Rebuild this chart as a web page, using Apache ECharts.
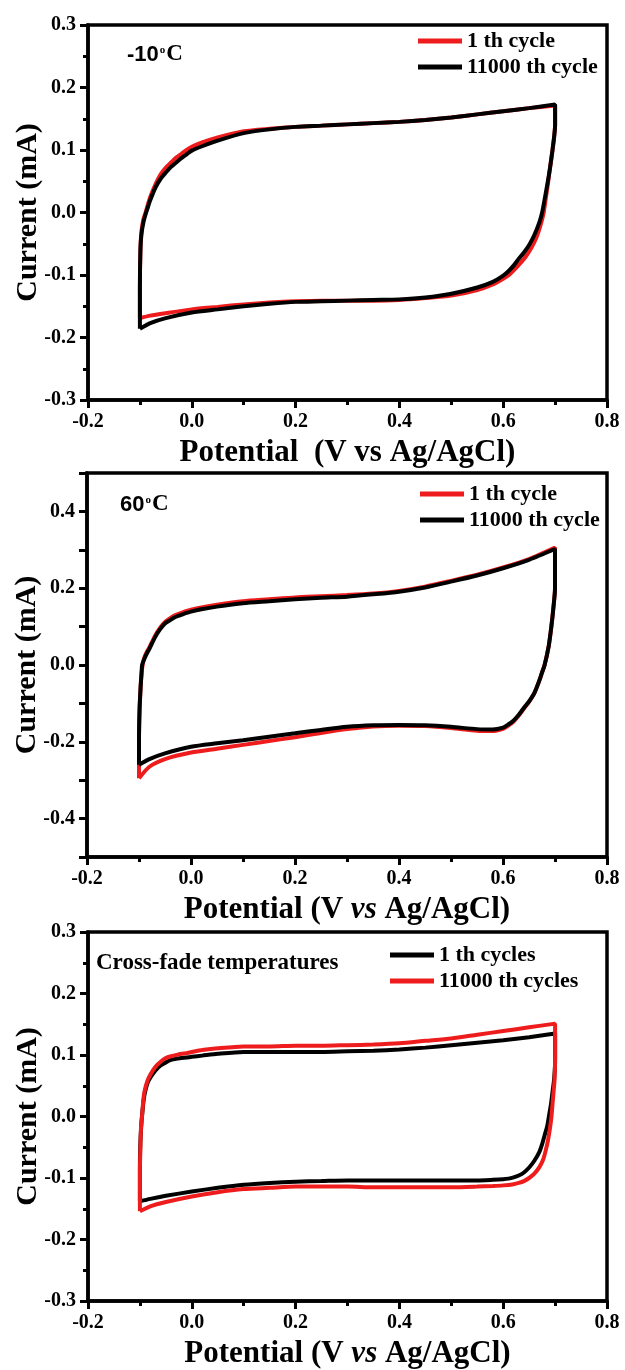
<!DOCTYPE html>
<html>
<head>
<meta charset="utf-8">
<script src="https://cdn.jsdelivr.net/npm/echarts@6/dist/echarts.min.js"></script>
<style>
html,body{margin:0;padding:0;background:#fff;}
#chart{width:625px;height:1370px;}
</style>
</head>
<body>
<div id="chart"></div>
<script>
// ---------- DATA ----------
const xTicks = [-0.2, 0.0, 0.2, 0.4, 0.6, 0.8];
const yTicksTop = [-0.3, -0.2, -0.1, 0.0, 0.1, 0.2, 0.3];
const yTicksMid = [-0.4, -0.2, 0.0, 0.2, 0.4];
const yTicksBot = [-0.3, -0.2, -0.1, 0.0, 0.1, 0.2, 0.3];

const legendTop = ['1 th cycle', '11000 th cycle'];
const legendBot = ['1 th cycles', '11000 th cycles'];
const labelsPanel = ['-10', '60', 'Cross-fade temperatures'];

// Panel 1 (-10 C) : [potential V, current mA], forward then reverse scan
const p1Cycle1 = [[-0.1,-0.169],[-0.1,-0.12],[-0.099,-0.06],[-0.097,-0.03],[-0.093,-0.01],[-0.089,0.0],[-0.085,0.012],[-0.08,0.025],[-0.07,0.045],[-0.06,0.061],[-0.05,0.072],[-0.04,0.08],[-0.03,0.088],[-0.02,0.094],[-0.01,0.1],[0.0,0.105],[0.02,0.112],[0.05,0.12],[0.1,0.13],[0.15,0.134],[0.2,0.137],[0.25,0.139],[0.3,0.141],[0.35,0.143],[0.4,0.145],[0.45,0.148],[0.5,0.152],[0.55,0.157],[0.6,0.162],[0.65,0.167],[0.7,0.171],
  [0.7,0.14],[0.698,0.12],[0.695,0.1],[0.69,0.07],[0.686,0.045],[0.682,0.022],[0.678,0.0],[0.673,-0.017],[0.664,-0.04],[0.654,-0.057],[0.644,-0.07],[0.633,-0.081],[0.622,-0.091],[0.611,-0.1],[0.6,-0.106],[0.58,-0.115],[0.55,-0.124],[0.5,-0.133],[0.45,-0.137],[0.4,-0.14],[0.35,-0.141],[0.3,-0.141],[0.25,-0.141],[0.2,-0.142],[0.15,-0.144],[0.1,-0.147],[0.05,-0.151],[0.0,-0.155],[-0.05,-0.161],[-0.08,-0.165],[-0.1,-0.169]];
const p1Cycle11000 = [[-0.1,-0.186],[-0.1,-0.12],[-0.099,-0.06],[-0.097,-0.035],[-0.093,-0.015],[-0.088,0.0],[-0.084,0.01],[-0.08,0.02],[-0.07,0.04],[-0.06,0.054],[-0.05,0.064],[-0.04,0.073],[-0.03,0.08],[-0.02,0.087],[-0.01,0.093],[0.0,0.099],[0.02,0.106],[0.05,0.115],[0.1,0.127],[0.15,0.133],[0.2,0.137],[0.25,0.139],[0.3,0.141],[0.35,0.143],[0.4,0.145],[0.45,0.148],[0.5,0.152],[0.55,0.157],[0.6,0.162],[0.65,0.167],[0.7,0.173],
  [0.7,0.14],[0.698,0.12],[0.695,0.1],[0.69,0.07],[0.685,0.045],[0.68,0.022],[0.675,0.0],[0.67,-0.015],[0.66,-0.036],[0.65,-0.052],[0.64,-0.064],[0.63,-0.074],[0.62,-0.085],[0.61,-0.094],[0.6,-0.101],[0.58,-0.111],[0.55,-0.12],[0.5,-0.13],[0.45,-0.136],[0.4,-0.139],[0.35,-0.14],[0.3,-0.141],[0.25,-0.142],[0.2,-0.143],[0.15,-0.146],[0.1,-0.15],[0.05,-0.155],[0.0,-0.16],[-0.05,-0.169],[-0.08,-0.177],[-0.1,-0.186]];

// Panel 2 (60 C)
const p2Cycle1 = [[-0.1,-0.295],[-0.1,-0.2],[-0.099,-0.12],[-0.097,-0.06],[-0.095,-0.02],[-0.093,0.0],[-0.09,0.018],[-0.085,0.034],[-0.08,0.046],[-0.07,0.074],[-0.06,0.096],[-0.05,0.112],[-0.04,0.122],[-0.03,0.13],[-0.02,0.135],[-0.01,0.14],[0.0,0.144],[0.02,0.15],[0.05,0.157],[0.1,0.166],[0.15,0.171],[0.2,0.176],[0.25,0.179],[0.3,0.182],[0.35,0.186],[0.4,0.193],[0.45,0.204],[0.5,0.219],[0.55,0.235],[0.6,0.254],[0.65,0.276],[0.7,0.306],
  [0.7,0.2],[0.697,0.15],[0.693,0.1],[0.688,0.05],[0.68,0.0],[0.675,-0.02],[0.67,-0.04],[0.66,-0.074],[0.65,-0.096],[0.64,-0.114],[0.63,-0.132],[0.62,-0.148],[0.61,-0.158],[0.6,-0.166],[0.58,-0.172],[0.55,-0.171],[0.5,-0.164],[0.45,-0.159],[0.4,-0.158],[0.35,-0.16],[0.3,-0.167],[0.25,-0.177],[0.2,-0.188],[0.15,-0.198],[0.1,-0.208],[0.05,-0.218],[0.0,-0.228],[-0.05,-0.245],[-0.08,-0.265],[-0.1,-0.295]];
const p2Cycle11000 = [[-0.1,-0.26],[-0.1,-0.2],[-0.099,-0.12],[-0.097,-0.06],[-0.095,-0.02],[-0.094,0.0],[-0.09,0.015],[-0.085,0.03],[-0.08,0.042],[-0.07,0.07],[-0.06,0.092],[-0.05,0.108],[-0.04,0.117],[-0.03,0.125],[-0.02,0.13],[-0.01,0.135],[0.0,0.139],[0.02,0.145],[0.05,0.152],[0.1,0.161],[0.15,0.166],[0.2,0.171],[0.25,0.175],[0.3,0.178],[0.35,0.184],[0.4,0.191],[0.45,0.202],[0.5,0.217],[0.55,0.233],[0.6,0.252],[0.65,0.274],[0.7,0.302],
  [0.7,0.2],[0.697,0.15],[0.693,0.1],[0.688,0.05],[0.68,0.0],[0.675,-0.02],[0.67,-0.04],[0.66,-0.074],[0.65,-0.095],[0.64,-0.112],[0.63,-0.13],[0.62,-0.145],[0.61,-0.155],[0.6,-0.163],[0.58,-0.168],[0.55,-0.167],[0.5,-0.161],[0.45,-0.157],[0.4,-0.156],[0.35,-0.157],[0.3,-0.161],[0.25,-0.169],[0.2,-0.178],[0.15,-0.187],[0.1,-0.196],[0.05,-0.204],[0.0,-0.213],[-0.05,-0.23],[-0.08,-0.245],[-0.1,-0.26]];

// Panel 3 (cross-fade temperatures)
const p3Cycle1 = [[-0.1,-0.138],[-0.1,-0.08],[-0.099,-0.04],[-0.097,-0.01],[-0.096,0.0],[-0.093,0.025],[-0.09,0.04],[-0.085,0.055],[-0.08,0.063],[-0.07,0.075],[-0.06,0.083],[-0.05,0.088],[-0.04,0.092],[-0.03,0.094],[-0.02,0.095],[-0.01,0.096],[0.0,0.097],[0.02,0.099],[0.05,0.102],[0.1,0.105],[0.15,0.105],[0.2,0.105],[0.25,0.105],[0.3,0.106],[0.35,0.107],[0.4,0.109],[0.45,0.112],[0.5,0.116],[0.55,0.12],[0.6,0.124],[0.65,0.129],[0.7,0.135],
  [0.7,0.09],[0.698,0.06],[0.695,0.04],[0.692,0.02],[0.688,0.0],[0.685,-0.015],[0.68,-0.03],[0.675,-0.045],[0.67,-0.057],[0.66,-0.072],[0.65,-0.083],[0.64,-0.091],[0.63,-0.096],[0.62,-0.099],[0.61,-0.101],[0.6,-0.102],[0.58,-0.103],[0.55,-0.104],[0.5,-0.104],[0.45,-0.104],[0.4,-0.104],[0.35,-0.104],[0.3,-0.104],[0.25,-0.105],[0.2,-0.106],[0.15,-0.108],[0.1,-0.111],[0.05,-0.116],[0.0,-0.122],[-0.05,-0.129],[-0.08,-0.134],[-0.1,-0.138]];
const p3Cycle11000 = [[-0.1,-0.154],[-0.1,-0.09],[-0.099,-0.05],[-0.098,-0.02],[-0.096,0.0],[-0.093,0.03],[-0.09,0.045],[-0.085,0.059],[-0.08,0.068],[-0.07,0.081],[-0.06,0.089],[-0.05,0.095],[-0.04,0.098],[-0.03,0.1],[-0.02,0.102],[-0.01,0.103],[0.0,0.105],[0.02,0.108],[0.05,0.111],[0.1,0.114],[0.15,0.114],[0.2,0.115],[0.25,0.115],[0.3,0.116],[0.35,0.117],[0.4,0.119],[0.45,0.123],[0.5,0.127],[0.55,0.133],[0.6,0.139],[0.65,0.145],[0.7,0.151],
  [0.7,0.1],[0.699,0.06],[0.697,0.04],[0.695,0.02],[0.693,0.0],[0.69,-0.02],[0.686,-0.04],[0.682,-0.055],[0.677,-0.07],[0.67,-0.082],[0.66,-0.093],[0.65,-0.1],[0.64,-0.105],[0.63,-0.108],[0.62,-0.11],[0.6,-0.112],[0.58,-0.113],[0.55,-0.114],[0.5,-0.115],[0.45,-0.115],[0.4,-0.115],[0.35,-0.115],[0.3,-0.114],[0.25,-0.114],[0.2,-0.114],[0.15,-0.116],[0.1,-0.118],[0.05,-0.123],[0.0,-0.13],[-0.05,-0.139],[-0.08,-0.146],[-0.1,-0.154]];

// ---------- STYLE ----------
const SERIF = '"Liberation Serif","Times New Roman",serif';
const SANS = '"Liberation Sans",Arial,sans-serif';
const RED = '#ee1c1c';
const BLACK = '#000000';

function fmt(v){ return (Math.round(v*10)/10).toFixed(1); }

function xAxisCfg(idx, name, nameRich){
  return {
    type:'value', gridIndex: idx, min: xTicks[0], max: xTicks[xTicks.length-1], interval: 0.2,
    axisLine:{show:true, onZero:false, lineStyle:{color:'#000', width:3.5}},
    axisTick:{show:true, inside:false, length:8, lineStyle:{color:'#000', width:3}},
    minorTick:{show:true, splitNumber:2, length:5, lineStyle:{color:'#000', width:3}},
    splitLine:{show:false},
    axisLabel:{margin:12, color:'#000', fontFamily:SERIF, fontWeight:'bold', fontSize:20, formatter: fmt},
    name: name, nameLocation:'middle', nameGap: 37,
    nameTextStyle:{color:'#000', fontFamily:SERIF, fontWeight:'bold', fontSize:31, rich: nameRich}
  };
}
function yAxisCfg(idx, ticks, opts){
  const base = {
    type:'value', gridIndex: idx,
    axisLine:{show:true, onZero:false, lineStyle:{color:'#000', width:3.5}},
    axisTick:{show:true, inside:false, length:8, lineStyle:{color:'#000', width:3}},
    splitLine:{show:false},
    axisLabel:{margin:12, color:'#000', fontFamily:SERIF, fontWeight:'bold', fontSize:20, formatter: fmt},
    name:'Current (mA)', nameLocation:'middle', nameGap: 45, nameRotate:90, nameMoveOverlap:false,
    nameTextStyle:{color:'#000', fontFamily:SERIF, fontWeight:'bold', fontSize:30}
  };
  return Object.assign(base, opts);
}

const italicRich = {
  i:{fontFamily:SERIF, fontWeight:'bold', fontStyle:'italic', fontSize:31, color:'#000'}
};

const chart = echarts.init(document.getElementById('chart'), null, {renderer:'canvas'});

const gridBase = {show:true, borderColor:'#000', borderWidth:3.5, backgroundColor:'transparent', containLabel:false};

function lineSeries(name, data, color, xi){
  return {
    type:'line', name:name, data:data, xAxisIndex:xi, yAxisIndex:xi,
    showSymbol:false, symbol:'none', smooth:0.25, lineStyle:{color:color, width:4},
    itemStyle:{color:color}, animation:false, clip:false
  };
}

const legendText = {color:'#000', fontFamily:SERIF, fontWeight:'bold', fontSize:22};
function legendCfg(data, left, top){
  return {data:data, orient:'vertical', left:left, top:top, itemGap:4, itemWidth:44, itemHeight:5,
    icon:'rect', textStyle:legendText, selectedMode:false, padding:0};
}

const tempRich = {
  a:{fontFamily:SANS, fontWeight:'bold', fontSize:22, color:'#000', lineHeight:24, verticalAlign:'bottom'},
  o:{fontFamily:SERIF, fontSize:11, color:'#000', lineHeight:24, verticalAlign:'top', padding:[3,1,0,1]},
  c:{fontFamily:SERIF, fontWeight:'bold', fontSize:23, color:'#000', lineHeight:24, verticalAlign:'bottom'}
};

const option = {
  backgroundColor:'#ffffff',
  animation:false,
  title:[
    {text:'{a|'+labelsPanel[0]+'}{o|o}{c|C}', left:127, top:42, textStyle:{rich:tempRich}, padding:0},
    {text:'{a|'+labelsPanel[1]+'}{o|o}{c|C}', left:120, top:492, textStyle:{rich:tempRich}, padding:0},
    {text:labelsPanel[2], left:96, top:952, padding:0,
      textStyle:{color:'#000', fontFamily:SERIF, fontWeight:'bold', fontSize:23}}
  ],
  legend:[
    legendCfg(legendTop, 418, 30),
    legendCfg(legendTop, 420, 483),
    legendCfg(legendBot, 390, 944)
  ],
  grid:[
    Object.assign({left:88, top:25, width:519, height:375}, gridBase),
    Object.assign({left:87, top:473, width:520, height:384}, gridBase),
    Object.assign({left:88, top:932, width:519, height:370}, gridBase)
  ],
  xAxis:[
    xAxisCfg(0, 'Potential  (V vs Ag/AgCl)', null),
    xAxisCfg(1, 'Potential (V {i|vs} Ag/AgCl)', italicRich),
    xAxisCfg(2, 'Potential (V {i|vs} Ag/AgCl)', italicRich)
  ],
  yAxis:[
    yAxisCfg(0, yTicksTop, {min:yTicksTop[0], max:yTicksTop[yTicksTop.length-1], interval:0.1,
      minorTick:{show:true, splitNumber:2, length:5, lineStyle:{color:'#000', width:3}}}),
    yAxisCfg(1, yTicksMid, {min:-0.5, max:0.5, interval:0.1,
      axisLabel:{margin:12, color:'#000', fontFamily:SERIF, fontWeight:'bold', fontSize:20,
        formatter:function(v){
          const r = Math.round(v*10)/10;
          for (const t of yTicksMid){ if (Math.abs(t-r) < 1e-6) return fmt(r); }
          return '';
        }}}),
    yAxisCfg(2, yTicksBot, {min:yTicksBot[0], max:yTicksBot[yTicksBot.length-1], interval:0.1,
      minorTick:{show:true, splitNumber:2, length:5, lineStyle:{color:'#000', width:3}}})
  ],
  series:[
    lineSeries(legendTop[0], p1Cycle1, RED, 0),
    lineSeries(legendTop[1], p1Cycle11000, BLACK, 0),
    lineSeries(legendTop[0], p2Cycle1, RED, 1),
    lineSeries(legendTop[1], p2Cycle11000, BLACK, 1),
    lineSeries(legendBot[0], p3Cycle1, BLACK, 2),
    lineSeries(legendBot[1], p3Cycle11000, RED, 2)
  ]
};
chart.setOption(option);
</script>
</body>
</html>
